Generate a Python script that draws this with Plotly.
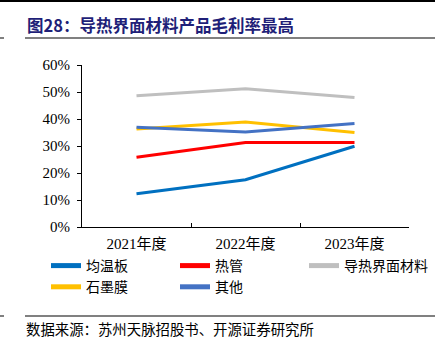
import plotly.graph_objects as go

# Gross margin by product line (%)
years = ["2021年度", "2022年度", "2023年度"]
series_names = ["均温板", "热管", "导热界面材料", "石墨膜", "其他"]
vc_values = [12.3, 17.5, 29.9]        # 均温板
heatpipe_values = [25.8, 31.3, 31.3]  # 热管
tim_values = [48.6, 51.2, 48.0]       # 导热界面材料
graphite_values = [36.3, 38.9, 35.0]  # 石墨膜
other_values = [36.9, 35.2, 38.3]     # 其他
y_ticks = [0, 10, 20, 30, 40, 50, 60]
y_tick_labels = ["0%", "10%", "20%", "30%", "40%", "50%", "60%"]

colors = ["#0070C0", "#FF0000", "#BFBFBF", "#FFC000", "#4472C4"]
all_values = [vc_values, heatpipe_values, tim_values, graphite_values, other_values]

SERIF = "'Liberation Serif', 'Noto Sans CJK SC', serif"
CJK = "'Noto Sans CJK SC', sans-serif"

fig = go.Figure()
for name, vals, col in zip(series_names, all_values, colors):
    fig.add_trace(go.Scatter(
        x=years, y=vals, name=name, mode="lines",
        line=dict(color=col, width=3),
    ))

W, H = 435, 346
L, R, T, B = 82, 26, 65, 119
PW, PH = W - L - R, H - T - B

fig.update_layout(
    width=W, height=H,
    margin=dict(l=L, r=R, t=T, b=B),
    paper_bgcolor="white", plot_bgcolor="white",
    showlegend=True,
    legend=dict(
        orientation="h",
        x=(46 - L) / PW, y=(T + PH - 250) / PH, xanchor="left", yanchor="top",
        entrywidth=84, entrywidthmode="pixels",
        font=dict(family=CJK, size=14, color="#000000"),
        tracegroupgap=0, itemsizing="constant",
        bgcolor="rgba(0,0,0,0)",
    ),
    xaxis=dict(
        type="category",
        showline=True, linecolor="#000000", linewidth=1,
        ticks="inside", ticklen=4, tickcolor="#000000",
        tickson="boundaries",
        ticklabelstandoff=3,
        showgrid=False, zeroline=False,
        tickfont=dict(family=SERIF, size=15, color="#000000"),
        range=[-0.5, 2.5],
    ),
    yaxis=dict(
        range=[0, 60],
        tickvals=y_ticks, ticktext=y_tick_labels,
        showline=True, linecolor="#000000", linewidth=1,
        ticks="outside", ticklen=4, tickcolor="#000000",
        ticklabelstandoff=4,
        showgrid=False, zeroline=False,
        tickfont=dict(family=SERIF, size=15, color="#000000"),
    ),
)


def ypix(py):
    """Convert a pixel row (from top) into paper y."""
    return (T + PH - py) / PH


def xpix(px):
    """Convert a pixel column into paper x."""
    return (px - L) / PW


# Header: title with rules above and below
fig.add_shape(type="line", xref="paper", yref="paper",
              x0=xpix(0), x1=xpix(W), y0=ypix(1), y1=ypix(1),
              line=dict(color="#000000", width=2))
fig.add_annotation(
    text="<b>图28：导热界面材料产品毛利率最高</b>",
    xref="paper", yref="paper",
    x=xpix(25), y=ypix(25), xanchor="left", yanchor="middle",
    showarrow=False, font=dict(family=CJK, size=16.5, color="#1F1F78"),
)
for yy in [38, 316]:
    fig.add_shape(type="line", xref="paper", yref="paper",
                  x0=xpix(25), x1=xpix(W), y0=ypix(yy), y1=ypix(yy),
                  line=dict(color="#808080", width=2))
    fig.add_shape(type="line", xref="paper", yref="paper",
                  x0=xpix(0), x1=xpix(4), y0=ypix(yy), y1=ypix(yy),
                  line=dict(color="#808080", width=2))

fig.add_annotation(
    text="数据来源：苏州天脉招股书、开源证券研究所",
    xref="paper", yref="paper",
    x=xpix(24), y=ypix(328), xanchor="left", yanchor="middle",
    showarrow=False, font=dict(family=CJK, size=14.4, color="#000000"),
)

fig.write_html("out.html")
